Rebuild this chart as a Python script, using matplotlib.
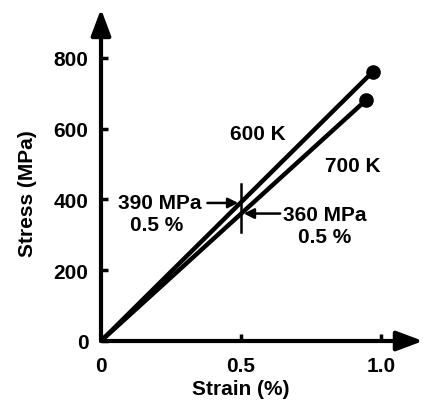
import matplotlib.pyplot as plt

# data
strain_600 = [0.0, 0.97]
stress_600 = [0.0, 760.0]
strain_700 = [0.0, 0.946]
stress_700 = [0.0, 680.0]
yield_strain = 0.5
yield_600 = 390.0
yield_700 = 360.0
x_ticks = [0.0, 0.5, 1.0]
x_tick_labels = ["0", "0.5", "1.0"]
y_ticks = [0, 200, 400, 600, 800]
y_tick_labels = ["0", "200", "400", "600", "800"]

plt.rcParams["font.family"] = ["Liberation Sans", "DejaVu Sans"]
plt.rcParams["font.weight"] = "bold"
plt.rcParams["font.size"] = 15

W, H = 425, 406
fig = plt.figure(figsize=(W / 100, H / 100), dpi=100)

# origin at pixel (101, 342), 280 px per % strain, 0.354 px per MPa
x0, y0 = 101, 342
xmax, ymax = 1.15, 938
ax = fig.add_axes([x0 / W, (H - y0) / H, xmax * 280 / W, ymax * 0.354 / H])
ax.set_xlim(0, xmax)
ax.set_ylim(0, ymax)

for s in ax.spines.values():
    s.set_visible(False)

# axes drawn as arrows
arrow = dict(arrowstyle="-|>,head_length=0.8,head_width=0.3", lw=3, color="black",
             mutation_scale=20, shrinkA=0, shrinkB=0)
ax.annotate("", xy=(1, 0), xytext=(0, 0), xycoords="axes fraction", arrowprops=arrow,
            annotation_clip=False)
ax.annotate("", xy=(0, 1), xytext=(0, 0), xycoords="axes fraction", arrowprops=arrow,
            annotation_clip=False)

ax.set_xticks(x_ticks)
ax.set_xticklabels(x_tick_labels)
ax.set_yticks(y_ticks)
ax.set_yticklabels(y_tick_labels)
ax.tick_params(axis="both", direction="in", length=5, width=2.5)
ax.tick_params(axis="x", pad=11)
ax.tick_params(axis="y", pad=9)

# curves
ax.plot(strain_600, stress_600, color="black", lw=3.2, solid_capstyle="round")
ax.plot(strain_700, stress_700, color="black", lw=3.2, solid_capstyle="round")
ax.plot(strain_600[-1], stress_600[-1], "o", color="black", ms=9.5)
ax.plot(strain_700[-1], stress_700[-1], "o", color="black", ms=9.5)

ax.text(0.56, 585, "600 K", ha="center", va="center")
ax.text(0.90, 497, "700 K", ha="center", va="center")

# mark at 0.5 % strain
ax.plot([yield_strain, yield_strain], [308, 443], color="black", lw=1.8)

ax.annotate("", xy=(yield_strain - 0.01, yield_600), xytext=(0.38, yield_600),
            arrowprops=dict(arrowstyle="-|>", lw=1.8, color="black", shrinkA=0, shrinkB=0))
ax.text(0.21, yield_600, "390 MPa", ha="center", va="center")
ax.text(0.20, 330, "0.5 %", ha="center", va="center")

ax.annotate("", xy=(yield_strain + 0.01, yield_700), xytext=(0.64, yield_700),
            arrowprops=dict(arrowstyle="-|>", lw=1.8, color="black", shrinkA=0, shrinkB=0))
ax.text(0.80, 357, "360 MPa", ha="center", va="center")
ax.text(0.80, 295, "0.5 %", ha="center", va="center")

ax.set_xlabel("Strain (%)", fontweight="bold")
ax.xaxis.set_label_coords(0.435, -0.114)
ax.set_ylabel("Stress (MPa)", fontweight="bold")
ax.yaxis.set_label_coords(-0.199, 0.446)

fig.savefig("out.png", dpi=100)
